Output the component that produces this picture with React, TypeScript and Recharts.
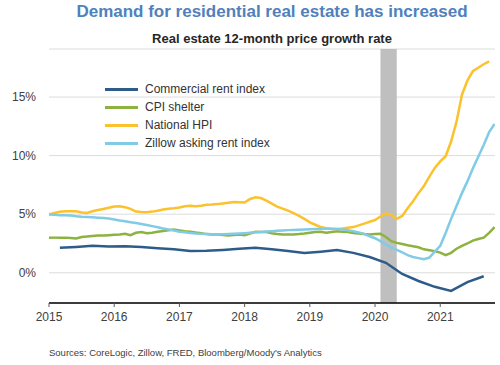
import { LineChart, Line, XAxis, YAxis, CartesianGrid, ReferenceArea } from 'recharts'

// monthly series, first value = Jan 2015
const hpiValues = [
    5.0, 5.1, 5.2, 5.25, 5.26, 5.25, 5.15, 5.1, 5.25, 5.35, 5.45, 5.55,
    5.65, 5.68, 5.6, 5.45, 5.22, 5.18, 5.17, 5.22, 5.3, 5.4, 5.46, 5.5,
    5.58, 5.68, 5.72, 5.68, 5.72, 5.8, 5.82, 5.86, 5.92, 5.98, 6.05, 6.02,
    6.0, 6.3, 6.45, 6.38, 6.15, 5.9, 5.65, 5.48, 5.3, 5.1, 4.85, 4.6,
    4.3, 4.1, 3.9, 3.8, 3.76, 3.74, 3.78, 3.85, 3.9, 4.05, 4.2, 4.35,
    4.5, 4.8, 5.08, 4.95, 4.6, 4.85, 5.5, 6.1, 6.8, 7.4, 8.2, 8.95,
    9.5, 9.95, 11.2, 12.9, 15.2, 16.4, 17.2, 17.5, 17.8, 18.05
]

const cpiValues = [
    2.99, 3.0, 3.0, 3.0, 2.97, 2.93, 3.05, 3.1, 3.14, 3.18, 3.19, 3.21,
    3.24, 3.27, 3.33, 3.21, 3.41, 3.48, 3.38, 3.42, 3.5, 3.56, 3.63, 3.7,
    3.62, 3.55, 3.5, 3.43, 3.38, 3.3, 3.27, 3.27, 3.22, 3.18, 3.22, 3.27,
    3.2, 3.35, 3.5, 3.47, 3.47, 3.37, 3.3, 3.27, 3.27, 3.27, 3.3, 3.35,
    3.42, 3.47, 3.5, 3.42, 3.48, 3.55, 3.5, 3.47, 3.4, 3.35, 3.3, 3.27,
    3.3, 3.33, 3.05, 2.7, 2.55, 2.45, 2.35, 2.27, 2.18, 2.0, 1.93, 1.85,
    1.72, 1.5, 1.7, 2.05, 2.3, 2.5, 2.75, 2.88, 3.0, 3.4, 3.9
]

const zillowValues = [
    4.97, 4.95, 4.92, 4.9, 4.88, 4.82, 4.78, 4.76, 4.73, 4.7, 4.67, 4.63,
    4.55, 4.46, 4.4, 4.32, 4.25, 4.17, 4.08, 3.98, 3.88, 3.78, 3.7, 3.6,
    3.5, 3.45, 3.4, 3.35, 3.32, 3.3, 3.28, 3.27, 3.28, 3.3, 3.33, 3.35,
    3.38, 3.42, 3.46, 3.49, 3.52, 3.55, 3.58, 3.61, 3.64, 3.66, 3.68, 3.7,
    3.72, 3.74, 3.75, 3.75, 3.75, 3.74, 3.7, 3.63, 3.55, 3.45, 3.32, 3.12,
    2.95, 2.7, 2.4, 2.15, 1.95, 1.75, 1.5, 1.35, 1.25, 1.15, 1.3, 1.8,
    2.3, 3.4, 4.6, 5.7, 6.8, 7.8, 8.9, 9.9, 10.9, 12.0, 12.7
]

// quarterly, first value = Mar 2015
const commercialValues = [
    2.13, 2.2, 2.3, 2.25, 2.27, 2.2, 2.1, 2.0, 1.85, 1.88, 1.95, 2.05, 2.13,
    2.0, 1.85, 1.68, 1.8, 1.95, 1.7, 1.35, 0.85, -0.1, -0.7, -1.2, -1.55, -0.8, -0.3
]

const yearTicks = [2015, 2016, 2017, 2018, 2019, 2020, 2021]
const percentTicks = [0, 5, 10, 15]
const recession = [2020 + 1 / 12, 2020 + 4 / 12]

const toPoints = (values: number[], startMonth: number, step: number) =>
    values.map((v, i) => ({ x: 2015 + (startMonth + i * step) / 12, y: v }))

const series = [
    { name: 'Commercial rent index', color: '#2E5C8A', data: toPoints(commercialValues, 2, 3) },
    { name: 'CPI shelter', color: '#8DB33F', data: toPoints(cpiValues, 0, 1) },
    { name: 'National HPI', color: '#FCC22D', data: toPoints(hpiValues, 0, 1) },
    { name: 'Zillow asking rent index', color: '#80CBE5', data: toPoints(zillowValues, 0, 1) }
]

const FONT = '"Liberation Sans", Arial, sans-serif'

const YearTick = ({ x, y, payload }: any) => (
    <g>
        <line x1={x} x2={x} y1={y} y2={y + 4} stroke="#595959" strokeWidth={1} />
        <text x={x} y={y + 18} textAnchor="middle" fontSize={12} fill="#404040" fontFamily={FONT}>
            {payload.value}
        </text>
    </g>
)

export default function App() {
    return (
        <div style={{ position: 'absolute', left: 0, top: 0, width: 500, height: 365, background: '#fff', fontFamily: FONT }}>
            <div style={{ position: 'absolute', left: 272, top: 2, transform: 'translateX(-50%)', whiteSpace: 'nowrap', fontSize: 17, lineHeight: '20px', fontWeight: 'bold', color: '#4F81BD' }}>
                Demand for residential real estate has increased
            </div>
            <div style={{ position: 'absolute', left: 272, top: 31, transform: 'translateX(-50%)', whiteSpace: 'nowrap', fontSize: 13, lineHeight: '16px', fontWeight: 'bold', color: '#262626' }}>
                Real estate 12-month price growth rate
            </div>

            <LineChart width={500} height={365} margin={{ top: 49, right: 5, bottom: 0, left: 9 }}>
                <CartesianGrid horizontal vertical={false} stroke="#dcdcdc" />
                <ReferenceArea x1={recession[0]} x2={recession[1]} y1={-2.58} y2={19.1} fill="#bfbfbf" fillOpacity={1} stroke="none" />
                <XAxis
                    type="number"
                    dataKey="x"
                    domain={[2015, 2021.84]}
                    ticks={yearTicks}
                    interval={0}
                    allowDataOverflow
                    axisLine={{ stroke: '#000', strokeWidth: 1.5 }}
                    tickLine={false}
                    tickSize={0}
                    tickMargin={0}
                    tick={<YearTick />}
                    height={62}
                />
                <YAxis
                    type="number"
                    domain={[-2.58, 19.1]}
                    ticks={percentTicks}
                    allowDataOverflow
                    axisLine={false}
                    tickLine={false}
                    tickSize={0}
                    tickMargin={13}
                    width={40}
                    tickFormatter={(v) => `${v}%`}
                    tick={{ fill: '#404040', fontSize: 12, fontFamily: FONT }}
                />
                {series.map((s) => (
                    <Line
                        key={s.name}
                        data={s.data}
                        dataKey="y"
                        name={s.name}
                        type="linear"
                        stroke={s.color}
                        strokeWidth={2.5}
                        dot={false}
                        isAnimationActive={false}
                    />
                ))}
            </LineChart>

            {/* legend */}
            <div style={{ position: 'absolute', left: 105, top: 80, fontSize: 12, color: '#333' }}>
                {series.map((s) => (
                    <div key={s.name} style={{ display: 'flex', alignItems: 'center', height: 18 }}>
                        <div style={{ width: 33, height: 3, background: s.color, marginRight: 7 }} />
                        <span>{s.name}</span>
                    </div>
                ))}
            </div>

            <div style={{ position: 'absolute', left: 49, top: 347, fontSize: 9.5, lineHeight: '12px', color: '#404040', whiteSpace: 'nowrap' }}>
                Sources: CoreLogic, Zillow, FRED, Bloomberg/Moody's Analytics
            </div>
        </div>
    )
}
